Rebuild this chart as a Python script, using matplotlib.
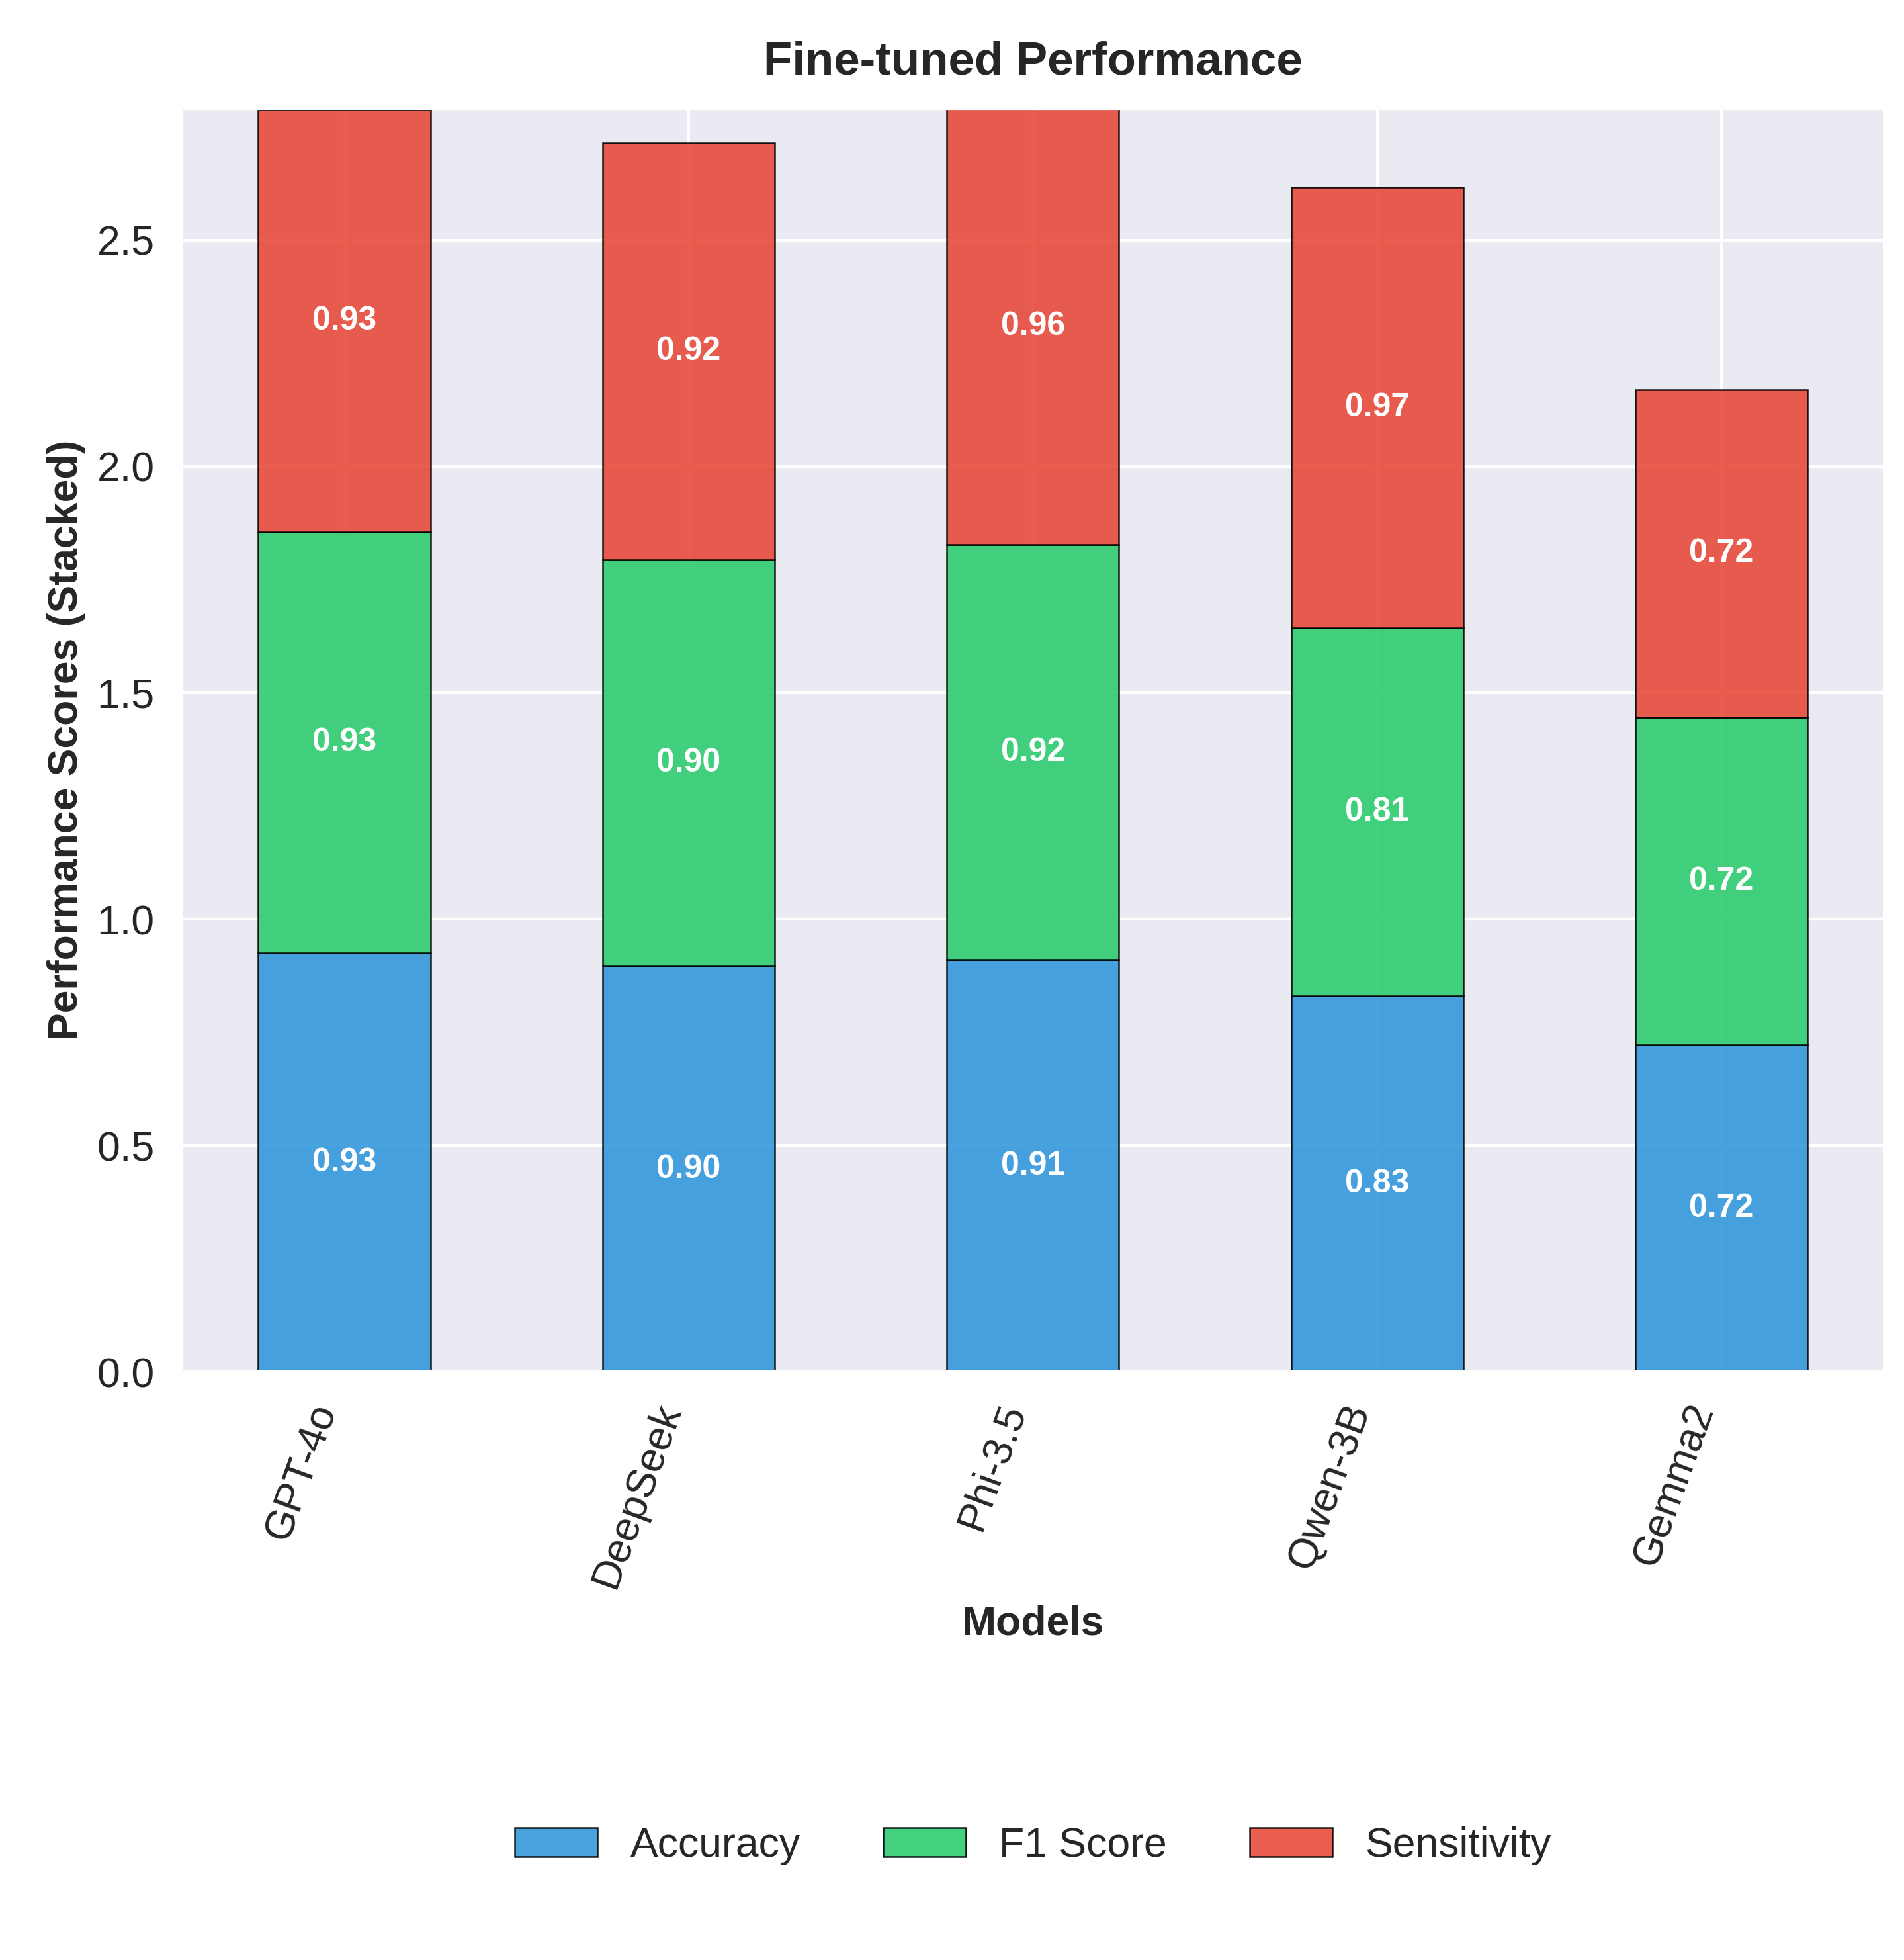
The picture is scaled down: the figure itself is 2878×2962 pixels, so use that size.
import matplotlib
matplotlib.use("Agg")
import matplotlib.pyplot as plt
import seaborn as sns
import numpy as np

sns.set_theme(style="darkgrid")
plt.rcParams["font.family"] = ["Liberation Sans", "DejaVu Sans"]

models = ["GPT-4o", "DeepSeek", "Phi-3.5", "Qwen-3B", "Gemma2"]
accuracy = [0.926, 0.896, 0.910, 0.830, 0.722]
f1 = [0.929, 0.897, 0.918, 0.813, 0.724]
sensitivity = [0.932, 0.921, 0.964, 0.973, 0.724]
metrics = ["Accuracy", "F1 Score", "Sensitivity"]
colors = ["#3498db", "#2ecc71", "#e74c3c"]

fig, ax = plt.subplots(figsize=(2878 / 300, 2962 / 300), dpi=300)
x = np.arange(len(models))
bottom = np.zeros(len(models))
for name, vals, c in zip(metrics, [accuracy, f1, sensitivity], colors):
    vals = np.array(vals)
    ax.bar(x, vals, 0.5, bottom=bottom, color=c, alpha=0.9, edgecolor="black", linewidth=0.6, label=name)
    for xi, b, v in zip(x, bottom, vals):
        ax.text(xi, b + v / 2, f"{v:.2f}", ha="center", va="center", color="white", fontsize=12, fontweight="bold")
    bottom += vals

ax.set_ylim(0, bottom.max())
ax.set_xticks(x)
ax.set_xticklabels(models, rotation=70, ha="right", fontsize=15)
ax.tick_params(axis="y", labelsize=15)
ax.set_xlabel("Models", fontsize=15, fontweight="bold")
ax.set_ylabel("Performance Scores (Stacked)", fontsize=15, fontweight="bold")
ax.set_title("Fine-tuned Performance", fontsize=17, fontweight="bold", pad=12)
ax.legend(loc="upper center", bbox_to_anchor=(0.5, -0.33), ncol=3, frameon=False, fontsize=15)
fig.subplots_adjust(left=0.095, right=0.99, top=0.945, bottom=0.3)
fig.savefig("out.png", dpi=300)
